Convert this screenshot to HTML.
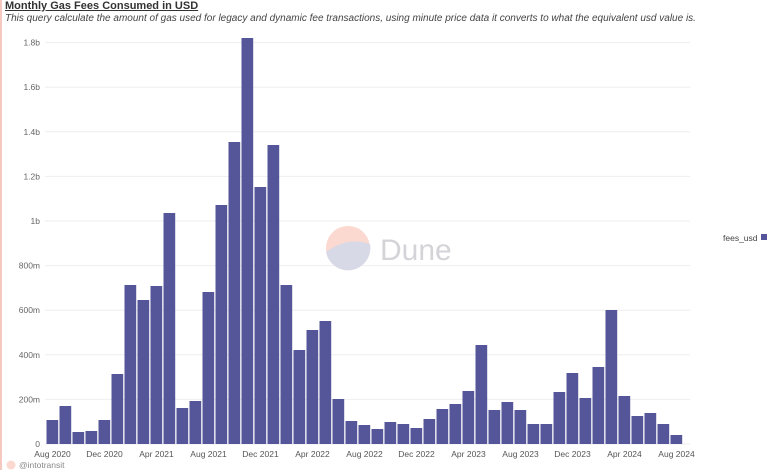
<!DOCTYPE html><html><head><style>
body{margin:0;width:780px;height:470px;background:#fff;font-family:"Liberation Sans",sans-serif;overflow:hidden;position:relative}
.t{position:absolute;left:5px;top:0px;font-size:11px;color:#333;text-decoration:underline;font-weight:bold}
.s{position:absolute;left:5px;top:13px;font-size:10px;color:#444;font-style:italic}
</style></head><body>
<div style="position:absolute;left:0;top:0;width:2px;height:470px;background:#f6c9c0"></div>
<div class="t">Monthly Gas Fees Consumed in USD</div>
<div class="s">This query calculate the amount of gas used for legacy and dynamic fee transactions, using minute price data it converts to what the equivalent usd value is.</div>
<svg width="780" height="470" style="position:absolute;left:0;top:0" font-family="Liberation Sans, sans-serif">
<g id="g"></g>
<circle cx="348" cy="248" r="22" fill="#fcd9d0"/>
<path d="M326,252 Q348,236 370,244 A22,22 0 0 1 326,252Z" fill="#d8d9e6"/>
<text x="380" y="260" font-size="30" fill="#d4d4d8">Dune</text>
<text x="723" y="241" font-size="8.5" fill="#444">fees_usd</text>
<rect x="761" y="234" width="6" height="6" fill="#55559a"/>
<circle cx="11" cy="465" r="4.5" fill="#fcd9d0"/>
<text x="19" y="468" font-size="8.5" fill="#888">@intotransit</text>
</svg>
<script>
var g=document.getElementById('g'),h='';
var labs=['0','200m','400m','600m','800m','1b','1.2b','1.4b','1.6b','1.8b'];
for(var i=0;i<10;i++){var y=444-i*44.6;h+='<line x1="45" x2="690" y1="'+y+'" y2="'+y+'" stroke="#eee" stroke-width="1"/><text x="40" y="'+(y+3)+'" font-size="8.5" fill="#666" text-anchor="end">'+labs[i]+'</text>';}
var t=[420,406,432,431,420,374,285,300,286,213,408,401,292,205,142,38,187,145,285,350,330,321,399,421,425,429,422,424,428,419,409,404,391,345,410,402,410,424,424,392,373,398,367,310,396,416,413,424,435];
var ml=['Aug 2020','Dec 2020','Apr 2021','Aug 2021','Dec 2021','Apr 2022','Aug 2022','Dec 2022','Apr 2023','Aug 2023','Dec 2023','Apr 2024','Aug 2024'];
for(var i=0;i<t.length;i++){var x=46.5+13*i;h+='<rect x="'+x+'" y="'+t[i]+'" width="11.7" height="'+(444-t[i])+'" fill="#55559a"/>';
if(i%4==0)h+='<text x="'+(x+6)+'" y="457" font-size="8.5" fill="#555" text-anchor="middle">'+ml[i/4]+'</text>';}
g.innerHTML=h;
</script>
</body></html>
